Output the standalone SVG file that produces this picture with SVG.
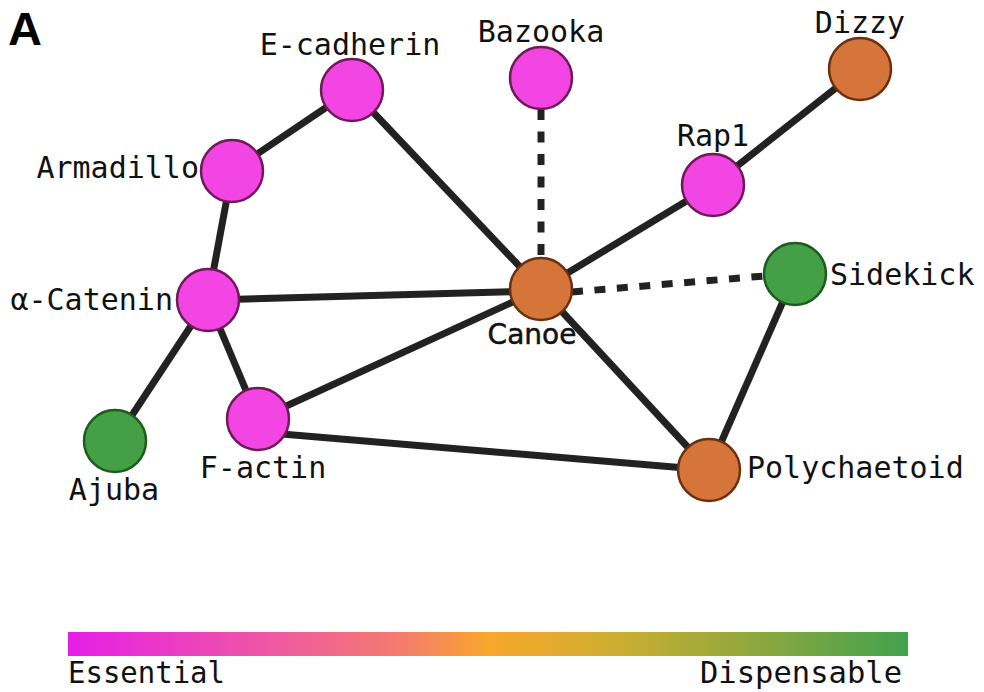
<svg xmlns="http://www.w3.org/2000/svg" width="984" height="692" viewBox="0 0 984 692">
<style>
.lbl{font-family:"DejaVu Sans Mono","Liberation Mono",monospace;font-size:30px;fill:#111}
.edge{stroke:#222;stroke-width:7;fill:none}
.dash{stroke-dasharray:11 11.5}
.ess{fill:#f245e4;stroke:#6e1a55;stroke-width:2.5}
.mid{fill:#d6753a;stroke:#6a3010;stroke-width:2.5}
.dis{fill:#44a044;stroke:#1f5a1f;stroke-width:2.5}
</style>
<defs>
<linearGradient id="grad" x1="0" y1="0" x2="1" y2="0">
<stop offset="0" stop-color="#e61ee8"/>
<stop offset="0.25" stop-color="#ef5aa0"/>
<stop offset="0.4" stop-color="#f47d6c"/>
<stop offset="0.5" stop-color="#f9a62c"/>
<stop offset="0.65" stop-color="#cdae30"/>
<stop offset="0.8" stop-color="#95a83c"/>
<stop offset="1" stop-color="#42a24e"/>
</linearGradient>
</defs>
<rect width="984" height="692" fill="#fff"/>
<text x="8" y="45" font-family="Liberation Sans, Arial, sans-serif" font-weight="bold" font-size="47" fill="#000">A</text>
<g id="connectors">
<line class="edge" x1="232" y1="171" x2="352" y2="90"/>
<line class="edge" x1="352" y1="90" x2="541" y2="289"/>
<line class="edge" x1="232" y1="171" x2="208" y2="300"/>
<line class="edge" x1="208" y1="300" x2="541" y2="291"/>
<line class="edge" x1="208" y1="300" x2="115" y2="441"/>
<line class="edge" x1="208" y1="300" x2="258" y2="419"/>
<line class="edge" x1="258" y1="419" x2="541" y2="289"/>
<line class="edge" x1="258" y1="432" x2="709" y2="470"/>
<line class="edge" x1="541" y1="289" x2="709" y2="470"/>
<line class="edge" x1="709" y1="470" x2="795" y2="274"/>
<line class="edge" x1="541" y1="289" x2="713" y2="185"/>
<line class="edge" x1="713" y1="185" x2="860" y2="69"/>
<line class="edge dash" x1="541" y1="109" x2="541" y2="258"/>
<line class="edge dash" x1="572" y1="292" x2="764" y2="276"/>
</g>
<g id="e-cadherin"><circle class="ess" cx="352" cy="90" r="31"/><text class="lbl" x="350" y="55" text-anchor="middle">E-cadherin</text></g>
<g id="bazooka"><circle class="ess" cx="541" cy="78" r="31"/><text class="lbl" x="541" y="42" text-anchor="middle">Bazooka</text></g>
<g id="dizzy"><circle class="mid" cx="860" cy="69" r="31"/><text class="lbl" x="860" y="33" text-anchor="middle">Dizzy</text></g>
<g id="armadillo"><circle class="ess" cx="232" cy="171" r="31"/><text class="lbl" x="199" y="178" text-anchor="end">Armadillo</text></g>
<g id="rap1"><circle class="ess" cx="713" cy="185" r="31"/><text class="lbl" x="713" y="146" text-anchor="middle">Rap1</text></g>
<g id="sidekick"><circle class="dis" cx="795" cy="274" r="31"/><text class="lbl" x="830" y="285">Sidekick</text></g>
<g id="canoe"><circle class="mid" cx="541" cy="289" r="31"/><text x="532" y="344" text-anchor="middle" font-family="DejaVu Sans, sans-serif" font-size="28" fill="#111" stroke="#111" stroke-width="0.5">Canoe</text></g>
<g id="alpha-catenin"><circle class="ess" cx="208" cy="300" r="31"/><text class="lbl" x="173" y="310" text-anchor="end">α-Catenin</text></g>
<g id="f-actin"><circle class="ess" cx="258" cy="419" r="31"/><text class="lbl" x="263" y="478" text-anchor="middle">F-actin</text></g>
<g id="ajuba"><circle class="dis" cx="115" cy="441" r="31"/><text class="lbl" x="114" y="500" text-anchor="middle">Ajuba</text></g>
<g id="polychaetoid"><circle class="mid" cx="709" cy="470" r="31"/><text class="lbl" x="747" y="478">Polychaetoid</text></g>
<g id="legend">
<rect x="68" y="632" width="840" height="24" fill="url(#grad)"/>
<text class="lbl" x="68" y="683" textLength="157" lengthAdjust="spacingAndGlyphs" font-size="30">Essential</text>
<text class="lbl" x="902" y="683" text-anchor="end" textLength="202" lengthAdjust="spacingAndGlyphs" font-size="30">Dispensable</text>
</g>
</svg>
